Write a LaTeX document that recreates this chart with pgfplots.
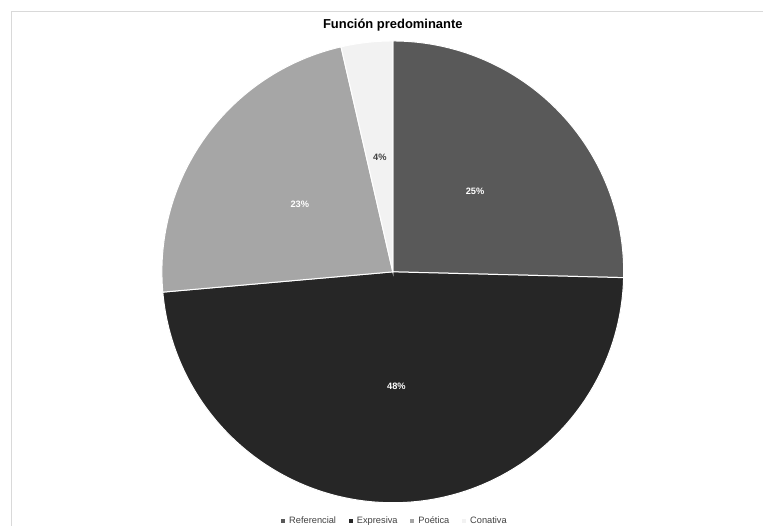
\documentclass[border=0pt]{standalone}
\usepackage{fontspec}
\setmainfont{Liberation Sans}
\usepackage{pgfplots}
\pgfplotsset{compat=1.18}
\definecolor{cRef}{HTML}{595959}
\definecolor{cExp}{HTML}{262626}
\definecolor{cPoe}{HTML}{A6A6A6}
\definecolor{cCon}{HTML}{F2F2F2}
\definecolor{cTxt}{HTML}{404040}
\definecolor{cBorder}{HTML}{D9D9D9}
% data (percent)
\def\vA{25.4}\def\vB{48.2}\def\vC{22.8}\def\vD{3.6}
\pgfmathsetmacro\aA{90}
\pgfmathsetmacro\aB{\aA-3.6*\vA}
\pgfmathsetmacro\aC{\aB-3.6*\vB}
\pgfmathsetmacro\aD{\aC-3.6*\vC}
\pgfmathsetmacro\aE{\aD-3.6*\vD}
\pgfmathsetmacro\mA{(\aA+\aB)/2}
\pgfmathsetmacro\mB{(\aB+\aC)/2}
\pgfmathsetmacro\mC{(\aC+\aD)/2}
\pgfmathsetmacro\mD{(\aD+\aE)/2}
\begin{document}
\begin{tikzpicture}
\begin{axis}[
  width=763bp, height=526bp, scale only axis,
  xmin=0, xmax=763, ymin=0, ymax=526,
  hide axis, clip=false,
  legend columns=4,
  legend style={draw=none, fill=none, at={(axis cs:395,5)}, anchor=center,
    font=\fontsize{9.3}{10}\selectfont, text=cTxt,
    inner sep=0pt,
    /tikz/every odd column/.append style={column sep=2bp},
    /tikz/every even column/.append style={column sep=10.5bp}},
  legend image code/.code={\fill[#1,draw=none] (0bp,-2.2bp) rectangle (4.4bp,2.2bp);},
]
\addlegendimage{fill=cRef,draw=none}\addlegendentry{Referencial}
\addlegendimage{fill=cExp,draw=none}\addlegendentry{Expresiva}
\addlegendimage{fill=cPoe,draw=none}\addlegendentry{Poética}
\addlegendimage{fill=cCon,draw=none}\addlegendentry{Conativa}
% bounding box
\path (axis cs:0,0) rectangle (axis cs:763,526);
% border
\draw[cBorder, line width=0.8bp] (axis cs:11,0) -- (axis cs:11,515) -- (axis cs:763,515);
% slices
\fill[cRef, draw=white, line width=1bp] (axis cs:393,254) -- ++(\aA:231bp) arc[start angle=\aA, end angle=\aB, radius=231bp] -- cycle;
\fill[cExp, draw=white, line width=1bp] (axis cs:393,254) -- ++(\aB:231bp) arc[start angle=\aB, end angle=\aC, radius=231bp] -- cycle;
\fill[cPoe, draw=white, line width=1bp] (axis cs:393,254) -- ++(\aC:231bp) arc[start angle=\aC, end angle=\aD, radius=231bp] -- cycle;
\fill[cCon, draw=white, line width=1bp] (axis cs:393,254) -- ++(\aD:231bp) arc[start angle=\aD, end angle=\aE, radius=231bp] -- cycle;
% labels
\path (axis cs:393,254) ++(\mA:115bp) node[white, font=\bfseries\fontsize{9.3}{10}\selectfont] {25\%};
\path (axis cs:393,254) ++(\mB:115bp) node[white, font=\bfseries\fontsize{9.3}{10}\selectfont] {48\%};
\path (axis cs:393,254) ++(\mC:115bp) node[white, font=\bfseries\fontsize{9.3}{10}\selectfont] {23\%};
\path (axis cs:393,254) ++(\mD:115bp) node[cTxt, font=\bfseries\fontsize{9.3}{10}\selectfont] {4\%};
% title
\node[font=\bfseries\fontsize{13}{15}\selectfont, text=black] at (axis cs:393,501) {Función predominante};
\end{axis}
\end{tikzpicture}
\end{document}
